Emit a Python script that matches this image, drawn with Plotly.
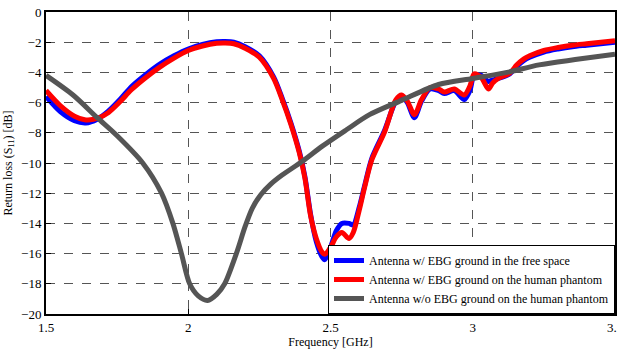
import plotly.graph_objects as go

freq = [1.50, 1.55, 1.60, 1.64, 1.68, 1.72, 1.76, 1.80, 1.85, 1.90, 1.95, 2.00, 2.05, 2.10, 2.13, 2.16,
        2.20, 2.25, 2.30, 2.33, 2.36, 2.39, 2.41, 2.43, 2.45, 2.47, 2.48, 2.50, 2.52, 2.54, 2.565, 2.58,
        2.60, 2.62, 2.645, 2.69, 2.73, 2.75, 2.77, 2.795, 2.82, 2.85, 2.88, 2.90, 2.935, 2.97, 2.99,
        3.005, 3.03, 3.055, 3.07, 3.09, 3.13, 3.155, 3.18, 3.20, 3.25, 3.30, 3.35, 3.40, 3.45, 3.50]

s11_free = [-5.6, -6.6, -7.2, -7.35, -7.1, -6.55, -5.8, -4.95, -4.15, -3.45, -2.9, -2.45, -2.15, -1.97, -1.95, -2.0,
            -2.3, -2.9, -4.3, -5.7, -7.3, -9.2, -10.9, -13.4, -15.2, -16.2, -16.4, -15.6, -14.5, -14.0, -14.0, -14.1,
            -13.0, -11.5, -9.7, -7.85, -5.9, -5.6, -6.0, -7.0, -5.9, -5.1, -5.2, -5.4, -5.2, -5.8, -5.2,
            -4.2, -4.2, -4.6, -4.5, -4.4, -4.1, -3.6, -3.2, -3.0, -2.65, -2.45, -2.3, -2.2, -2.1, -2.0]

s11_phantom = [-5.2, -6.2, -6.9, -7.15, -7.05, -6.65, -5.95, -5.15, -4.35, -3.65, -3.05, -2.55, -2.25, -2.07, -2.05, -2.1,
               -2.4, -3.0, -4.4, -5.8, -7.4, -9.3, -11.0, -13.5, -15.0, -15.9, -16.05, -15.6, -14.9, -14.6, -15.0, -14.6,
               -13.2, -11.6, -9.8, -7.95, -5.8, -5.5, -5.9, -6.8, -5.8, -5.0, -5.1, -5.3, -5.1, -5.5, -4.9,
               -4.1, -4.35, -5.1, -4.7, -4.4, -4.05, -3.5, -3.1, -2.9, -2.55, -2.35, -2.2, -2.1, -2.0, -1.9]

freq_noebg = [1.50, 1.595, 1.68, 1.75, 1.84, 1.906, 1.946, 1.976, 2.005, 2.035, 2.068, 2.10, 2.128, 2.169,
              2.20, 2.225, 2.255, 2.29, 2.33, 2.40, 2.47, 2.556, 2.637, 2.75, 2.88, 3.00, 3.12, 3.233, 3.36, 3.50]
s11_noebg = [-4.2, -5.5, -7.0, -8.2, -10.0, -12.0, -14.0, -16.0, -18.0, -18.8, -19.1, -18.7, -18.0, -16.0,
             -14.2, -13.0, -12.1, -11.4, -10.8, -9.9, -8.9, -7.8, -6.8, -5.85, -4.8, -4.4, -4.0, -3.5, -3.15, -2.8]

names = ["Antenna w/ EBG ground in the free space",
         "Antenna w/ EBG ground on the human phantom",
         "Antenna w/o EBG ground on the human phantom"]

x_ticks = [1.5, 2, 2.5, 3, 3.5]
y_ticks = list(range(0, -21, -2))

FONT = "Liberation Serif, Times New Roman, serif"

fig = go.Figure()
fig.add_trace(go.Scatter(x=freq, y=s11_free, mode="lines", name=names[0],
                         line=dict(color="#0000ff", width=5, shape="spline", smoothing=0.8)))
fig.add_trace(go.Scatter(x=freq, y=s11_phantom, mode="lines", name=names[1],
                         line=dict(color="#ff0000", width=5, shape="spline", smoothing=0.8)))
fig.add_trace(go.Scatter(x=freq_noebg, y=s11_noebg, mode="lines", name=names[2],
                         line=dict(color="#555555", width=5, shape="spline", smoothing=0.8)))

fig.update_layout(
    width=617, height=349,
    margin=dict(l=46, r=2, t=12, b=35, autoexpand=False),
    paper_bgcolor="white", plot_bgcolor="white",
    font=dict(family=FONT, size=12, color="black"),
    showlegend=True,
    legend=dict(x=1, y=0, xanchor="right", yanchor="bottom",
                bgcolor="white", bordercolor="black", borderwidth=1,
                font=dict(family=FONT, size=12),
                tracegroupgap=0, itemwidth=30),
)
fig.update_xaxes(range=[1.5, 3.5], tickvals=x_ticks, ticktext=["1.5", "2", "2.5", "3", "3.5"],
                 tickfont=dict(family=FONT, size=13), ticklabeloverflow="allow", automargin=False,
                 showline=True, linecolor="black", linewidth=2, mirror=True,
                 ticks="inside", ticklen=5, tickcolor="black",
                 showgrid=True, gridcolor="#555555", griddash="dash", gridwidth=1,
                 zeroline=False,
                 title=dict(text="Frequency [GHz]", font=dict(family=FONT, size=12), standoff=3))
fig.update_yaxes(range=[-20, 0], tickvals=y_ticks, automargin=False,
                 tickfont=dict(family=FONT, size=13),
                 showline=True, linecolor="black", linewidth=2, mirror=True,
                 ticks="inside", ticklen=5, tickcolor="black",
                 showgrid=True, gridcolor="#555555", griddash="dash", gridwidth=1,
                 zeroline=False,
                 title=dict(text="Return loss (S<sub>11</sub>) [dB]", font=dict(family=FONT, size=12), standoff=6))

fig.write_html("out.html", config={"displayModeBar": False},
               post_script="document.body.style.margin='0';")
